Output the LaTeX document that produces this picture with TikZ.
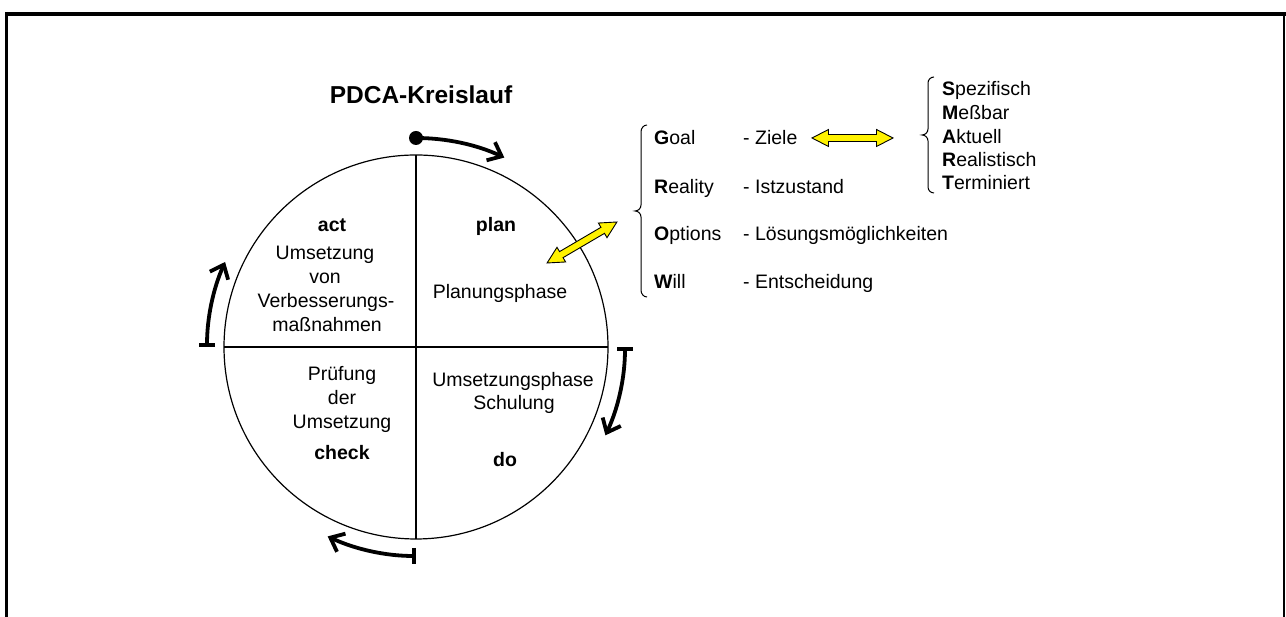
\documentclass[tikz,border=0pt]{standalone}
\usepackage{fontspec}
\setmainfont{Liberation Sans}
\usetikzlibrary{arrows.meta}

\begin{document}
\begin{tikzpicture}[x=1pt,y=1pt,
  txt/.style={font=\fontsize{19.5}{24}\selectfont, inner sep=0pt, anchor=base},
  ltxt/.style={txt, anchor=base west},
  cyclearrow/.style={line width=3.8pt,
    {Bar[width=16pt]}-{Straight Barb[length=12pt,width=20pt]}},
  bracestyle/.style={line width=1pt},
  dbl/.pic={\draw[fill=yellow, line width=0.9pt, line join=miter]
    (-40.5,0) -- (-24,8.5) -- (-24,3.5) -- (24,3.5) -- (24,8.5) -- (40.5,0)
    -- (24,-8.5) -- (24,-3.5) -- (-24,-3.5) -- (-24,-8.5) -- cycle;}]

\useasboundingbox (0,0) rectangle (1286,617);

% page frame
\draw[line width=4pt] (5,603) -- (1286,603);
\draw[line width=3.5pt] (6.5,605) -- (6.5,0);
\draw[line width=1.5pt] (1284,603) -- (1284,0);

% title
\node[txt, font=\fontsize{24.5}{29}\selectfont\bfseries] (title) at (421,513) {PDCA-Kreislauf};

% circle with its four quadrants
\coordinate (C) at (416,270);
\draw[line width=1.2pt] (C) circle[radius=192];
\draw[line width=1.2pt] ([yshift=192]C) -- ([yshift=-192]C);
\draw[line width=1.2pt] ([xshift=-192]C) -- ([xshift=192]C);

% cycle arrows around the circle
\coordinate (Ptop) at ([yshift=209]C);
\coordinate (Pright) at ([xshift=209]C);
\coordinate (Pbottom) at ([yshift=-209]C);
\coordinate (Pleft) at ([xshift=-209]C);
\fill (Ptop) circle[radius=7];
\draw[line width=3.8pt, -{Straight Barb[length=12pt,width=20pt]}]
  (Ptop) arc[start angle=90, end angle=65, radius=209];
\draw[cyclearrow] (Pright) arc[start angle=0, end angle=-25, radius=209];
\draw[cyclearrow] (Pbottom) arc[start angle=-90, end angle=-115, radius=209];
\draw[cyclearrow] (Pleft) arc[start angle=180, end angle=156, radius=209];

% quadrant: act
\node[txt, font=\fontsize{19.5}{24}\selectfont\bfseries] (act) at (332,385) {act};
\node[txt] (a1) at (325,357) {Umsetzung};
\node[txt] (a2) at (325,333) {von};
\node[txt] (a3) at (326,309) {Verbesserungs-};
\node[txt] (a4) at (327,285) {maßnahmen};

% quadrant: plan
\node[txt, font=\fontsize{19.5}{24}\selectfont\bfseries] (plan) at (496,385) {plan};
\node[txt] (p1) at (500,318) {Planungsphase};

% quadrant: do
\node[txt] (d1) at (513,230) {Umsetzungsphase};
\node[txt] (d2) at (514,207) {Schulung};
\node[txt, font=\fontsize{19.5}{24}\selectfont\bfseries] (do) at (505,150) {do};

% quadrant: check
\node[txt] (c1) at (342,236) {Prüfung};
\node[txt] (c2) at (342,212) {der};
\node[txt] (c3) at (342,188) {Umsetzung};
\node[txt, font=\fontsize{19.5}{24}\selectfont\bfseries] (check) at (342,157) {check};

% link from plan to the GROW list
\pic[rotate=30.4] at (582,374.5) {dbl};

% GROW brace
\draw[bracestyle] (647,492) to[out=180,in=90] (641,485) -- (641,412)
  to[out=-90,in=0] (635,406) to[out=0,in=90] (641,400) -- (641,327)
  to[out=-90,in=180] (647,320);

% GROW list
\node[ltxt] (g1) at (654,472) {\textbf{G}oal};
\node[ltxt] (g2) at (654,423) {\textbf{R}eality};
\node[ltxt] (g3) at (654,376) {\textbf{O}ptions};
\node[ltxt] (g4) at (654,328) {\textbf{W}ill};
\node[ltxt] (h1) at (743,472) {- Ziele};
\node[ltxt] (h2) at (743,423) {- Istzustand};
\node[ltxt] (h3) at (743,376) {- Lösungsmöglichkeiten};
\node[ltxt] (h4) at (743,328) {- Entscheidung};

% link from goals to SMART
\pic at (852.5,479) {dbl};

% SMART brace
\draw[bracestyle] (934,540) to[out=180,in=90] (928,534) -- (928,488)
  to[out=-90,in=0] (922,482) to[out=0,in=90] (928,476) -- (928,430)
  to[out=-90,in=180] (934,424);

% SMART list
\node[ltxt] (s1) at (942,521) {\textbf{S}pezifisch};
\node[ltxt] (s2) at (942,497) {\textbf{M}eßbar};
\node[ltxt] (s3) at (942,473) {\textbf{A}ktuell};
\node[ltxt] (s4) at (942,450) {\textbf{R}ealistisch};
\node[ltxt] (s5) at (942,427) {\textbf{T}erminiert};
\end{tikzpicture}
\end{document}
